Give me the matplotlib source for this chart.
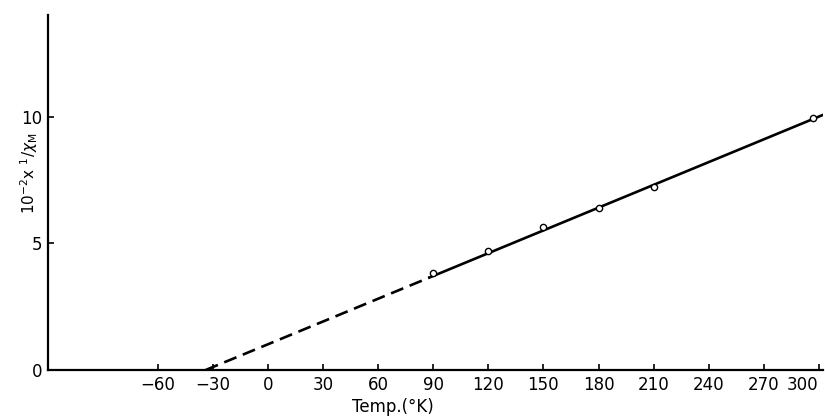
import numpy as np
import matplotlib
matplotlib.use("Agg")
import matplotlib.pyplot as plt

# measured points: temperature (K) and 10^-2 x 1/chi_M
temp = [90, 120, 150, 180, 210, 297]
inv_chi = [3.82, 4.69, 5.63, 6.38, 7.20, 9.96]

# Curie-Weiss fit line: intercept theta, end of line, value at end
theta = -34.0
t_end = 301.8
y_end = 10.05
t_solid = 88.0  # line is dashed below this, solid above

xticks = [-60, -30, 0, 30, 60, 90, 120, 150, 180, 210, 240, 270, 300]
yticks = [0, 5, 10]

plt.rcParams['font.family'] = ['DejaVu Sans']

fig = plt.figure(figsize=(8.25, 4.16), dpi=100)
ax = fig.add_axes([0.058, 0.1106, 0.94, 0.853])

slope = y_end / (t_end - theta)
t_dash = np.array([theta, t_solid])
t_line = np.array([t_solid, t_end])
ax.plot(t_dash, slope * (t_dash - theta), color='black', lw=1.9,
        dashes=(5, 2.6), solid_capstyle='butt')
ax.plot(t_line, slope * (t_line - theta), color='black', lw=1.9)
ax.plot(temp, inv_chi, 'o', ms=4.5, mfc='white', mec='black', mew=1.0,
        zorder=3)

ax.set_xlim(-120, 302.5)
ax.set_ylim(0, 14)
ax.set_xticks(xticks)
ax.set_yticks(yticks)
ax.tick_params(direction='in', length=4, width=1.2, labelsize=12, pad=4)
# last label would run off the edge, so pull it in to the left
last = ax.get_xticklabels()[-1]
last.set_horizontalalignment('right')
last.set_x(303)
for s in ['top', 'right']:
    ax.spines[s].set_visible(False)
for s in ['left', 'bottom']:
    ax.spines[s].set_linewidth(1.6)

ax.set_xlabel('Temp.(°K)', fontsize=12, labelpad=1)
ax.xaxis.set_label_coords(0.445, -0.078)
ax.set_ylabel(r'$10^{-2}$x $^{1}/\chi_{\rm M}$', fontsize=11)
ax.yaxis.set_label_coords(-0.01, 0.555)

fig.savefig('out.png', dpi=100)
